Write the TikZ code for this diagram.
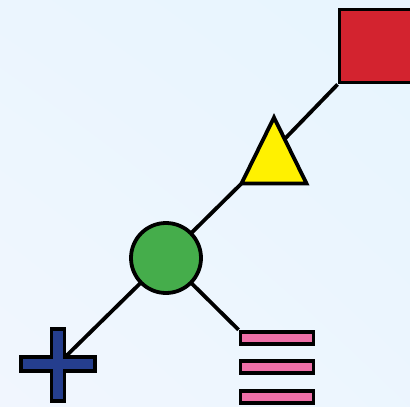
\documentclass[tikz,border=0pt]{standalone}
\usetikzlibrary{positioning, shadings}
\definecolor{mysky}{HTML}{E7F5FE}
\definecolor{mypale}{HTML}{F1F6FE}
\definecolor{myred}{HTML}{D3232F}
\definecolor{myyellow}{HTML}{FFF100}
\definecolor{mygreen}{HTML}{45AD4B}
\definecolor{myblue}{HTML}{253E8E}
\definecolor{mypink}{HTML}{EE6FA7}
\pgfdeclarelayer{links}
\pgfsetlayers{links,main}

\begin{document}
\begin{tikzpicture}[x=1pt, y=-1pt,
  shp/.style={draw=black, line width=3.8pt, inner sep=0pt, line join=miter},
  bar/.style={shp, fill=mypink, minimum width=73pt, minimum height=12.5pt},
  link/.style={draw=black, line width=3.8pt}
]
\useasboundingbox (0,0) rectangle (410,407);
\begin{pgfonlayer}{links}
  \shade[upper left=mysky!60!mypale, upper right=mysky, lower left=mypale, lower right=mysky!50!mypale]
    (0,0) rectangle (410,407);
\end{pgfonlayer}
% glyphs
\node[shp, fill=myred, minimum size=73pt] (sq) at (376,46) {};
\draw[shp, fill=myyellow] (274,117.5) -- (306.5,183.5) -- (241.5,183.5) -- cycle;
\coordinate (tri) at (274,150);
\coordinate (tribl) at (241.5,183.5);
\node[shp, circle, fill=mygreen, minimum size=70pt] (circ) at (166,258) {};
\node[bar] (bar1) at (277,338) {};
\node[bar] (bar2) at (277,367) {};
\node[bar] (bar3) at (277,397) {};
\draw[shp, fill=myblue] (51.5,329) -- (64.5,329) -- (64.5,357) -- (95,357) -- (95,371)
  -- (64.5,371) -- (64.5,401) -- (51.5,401) -- (51.5,371) -- (21,371) -- (21,357)
  -- (51.5,357) -- cycle;
\coordinate (plus) at (58,364);
% connectors
\begin{pgfonlayer}{links}
  \draw[link] (sq.south west) -- (tri);
  \draw[link] (tribl) -- (circ.center);
  \draw[link] (circ.center) -- (plus);
  \draw[link] (circ.center) -- (bar1.north west);
\end{pgfonlayer}
\end{tikzpicture}
\end{document}
